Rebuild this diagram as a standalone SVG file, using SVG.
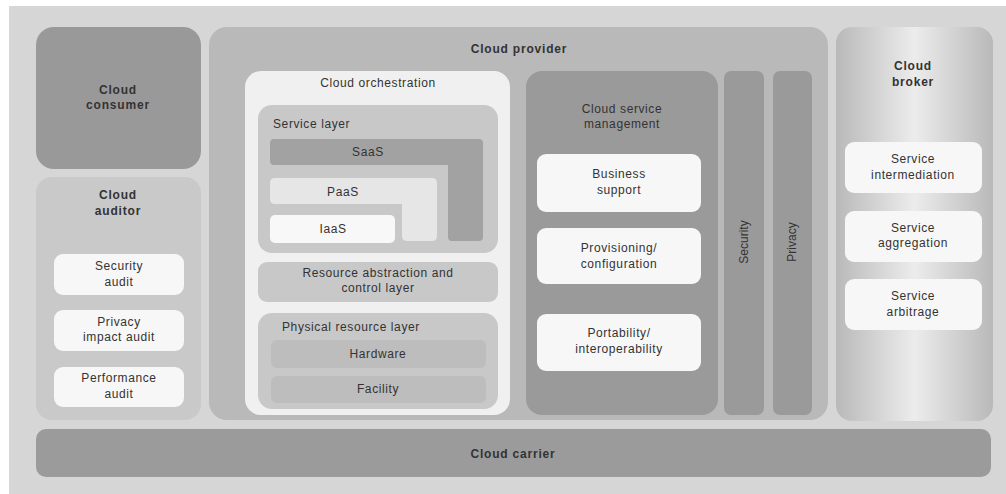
<svg xmlns="http://www.w3.org/2000/svg" width="1006" height="494" viewBox="0 0 1006 494">
<defs>
<linearGradient id="brokerGrad" x1="0" y1="0" x2="1" y2="0">
<stop offset="0" stop-color="#b9b9b9"/>
<stop offset="0.5" stop-color="#ececec"/>
<stop offset="1" stop-color="#b9b9b9"/>
</linearGradient>
<style>
text{font-family:"Liberation Sans","DejaVu Sans",Arial,sans-serif;font-size:12px;fill:#333;text-anchor:middle;letter-spacing:0.6px}
.b{font-weight:bold;letter-spacing:0.8px}
.l{text-anchor:start}
.white{fill:#f7f7f7}
.mid{fill:#c8c8c8}
</style>
</defs>
<rect x="9" y="6" width="997" height="488" fill="#d6d6d6"/>

<g id="cloud-consumer">
<rect x="36" y="27" width="165" height="142" rx="18" fill="#999999"/>
<text class="b" x="118" y="94">Cloud</text>
<text class="b" x="118" y="109">consumer</text>
</g>

<g id="cloud-auditor">
<rect x="36" y="177" width="165" height="243" rx="16" fill="#c9c9c9"/>
<text class="b" x="118" y="199">Cloud</text>
<text class="b" x="118" y="215">auditor</text>
<g id="security-audit">
<rect class="white" x="54" y="254" width="130" height="41" rx="9"/>
<text x="119" y="270">Security</text>
<text x="119" y="286">audit</text>
</g>
<g id="privacy-impact-audit">
<rect class="white" x="54" y="310" width="130" height="41" rx="9"/>
<text x="119" y="326">Privacy</text>
<text x="119" y="341">impact audit</text>
</g>
<g id="performance-audit">
<rect class="white" x="54" y="367" width="130" height="40" rx="9"/>
<text x="119" y="382">Performance</text>
<text x="119" y="398">audit</text>
</g>
</g>

<g id="cloud-provider">
<rect x="209" y="27" width="619" height="393" rx="18" fill="#b9b9b9"/>
<text class="b" x="519" y="53">Cloud provider</text>
</g>

<g id="cloud-orchestration">
<rect x="245" y="71" width="265" height="344" rx="16" fill="#f0f0f0"/>
<text x="378" y="87">Cloud orchestration</text>
</g>

<g id="service-layer">
<rect class="mid" x="258" y="105" width="240" height="148" rx="14"/>
<text class="l" x="273" y="128">Service layer</text>
</g>
<g id="saas">
<path d="M274 139 H479 Q483 139 483 143 V237 Q483 241 479 241 H452 Q448 241 448 237 V165 H274 Q270 165 270 161 V143 Q270 139 274 139 Z" fill="#a2a2a2"/>
<text x="368" y="156">SaaS</text>
</g>
<g id="paas">
<path d="M275 178 H432 Q437 178 437 183 V236 Q437 241 432 241 H407 Q402 241 402 236 V204 H275 Q270 204 270 199 V183 Q270 178 275 178 Z" fill="#e6e6e6"/>
<text x="343" y="196">PaaS</text>
</g>
<g id="iaas">
<rect x="270" y="215" width="125" height="28" rx="5" fill="#f8f8f8"/>
<text x="333" y="233">IaaS</text>
</g>

<g id="resource-abstraction">
<rect class="mid" x="258" y="262" width="240" height="40" rx="9"/>
<text x="378" y="277">Resource abstraction and</text>
<text x="378" y="292">control layer</text>
</g>

<g id="physical-resource-layer">
<rect class="mid" x="258" y="313" width="240" height="96" rx="14"/>
<text class="l" x="282" y="331">Physical resource layer</text>
</g>
<g id="hardware">
<rect x="271" y="340" width="215" height="28" rx="6" fill="#bdbdbd"/>
<text x="378" y="358">Hardware</text>
</g>
<g id="facility">
<rect x="271" y="376" width="215" height="27" rx="6" fill="#bdbdbd"/>
<text x="378" y="393">Facility</text>
</g>

<g id="cloud-service-management">
<rect x="526" y="71" width="192" height="344" rx="16" fill="#9a9a9a"/>
<text x="622" y="113">Cloud service</text>
<text x="622" y="128">management</text>
</g>
<g id="business-support">
<rect class="white" x="537" y="154" width="164" height="58" rx="9"/>
<text x="619" y="178">Business</text>
<text x="619" y="194">support</text>
</g>
<g id="provisioning">
<rect class="white" x="537" y="228" width="164" height="56" rx="9"/>
<text x="619" y="252">Provisioning/</text>
<text x="619" y="268">configuration</text>
</g>
<g id="portability">
<rect class="white" x="537" y="314" width="164" height="57" rx="9"/>
<text x="619" y="337">Portability/</text>
<text x="619" y="353">interoperability</text>
</g>

<g id="security">
<rect x="724" y="71" width="40" height="344" rx="7" fill="#9a9a9a"/>
<text transform="translate(748,242) rotate(-90)" style="letter-spacing:0">Security</text>
</g>
<g id="privacy">
<rect x="773" y="71" width="39" height="344" rx="7" fill="#9a9a9a"/>
<text transform="translate(796,242) rotate(-90)" style="letter-spacing:0">Privacy</text>
</g>

<g id="cloud-broker">
<rect x="836" y="27" width="157" height="394" rx="16" fill="url(#brokerGrad)"/>
<text class="b" x="913" y="70">Cloud</text>
<text class="b" x="913" y="86">broker</text>
<g id="service-intermediation">
<rect class="white" x="845" y="142" width="137" height="51" rx="9"/>
<text x="913" y="163">Service</text>
<text x="913" y="179">intermediation</text>
</g>
<g id="service-aggregation">
<rect class="white" x="845" y="211" width="137" height="51" rx="9"/>
<text x="913" y="232">Service</text>
<text x="913" y="247">aggregation</text>
</g>
<g id="service-arbitrage">
<rect class="white" x="845" y="279" width="137" height="51" rx="9"/>
<text x="913" y="300">Service</text>
<text x="913" y="316">arbitrage</text>
</g>
</g>

<g id="cloud-carrier">
<rect x="36" y="429" width="955" height="48" rx="10" fill="#9b9b9b"/>
<text class="b" x="513" y="458">Cloud carrier</text>
</g>

<g id="connectors"></g>
</svg>
